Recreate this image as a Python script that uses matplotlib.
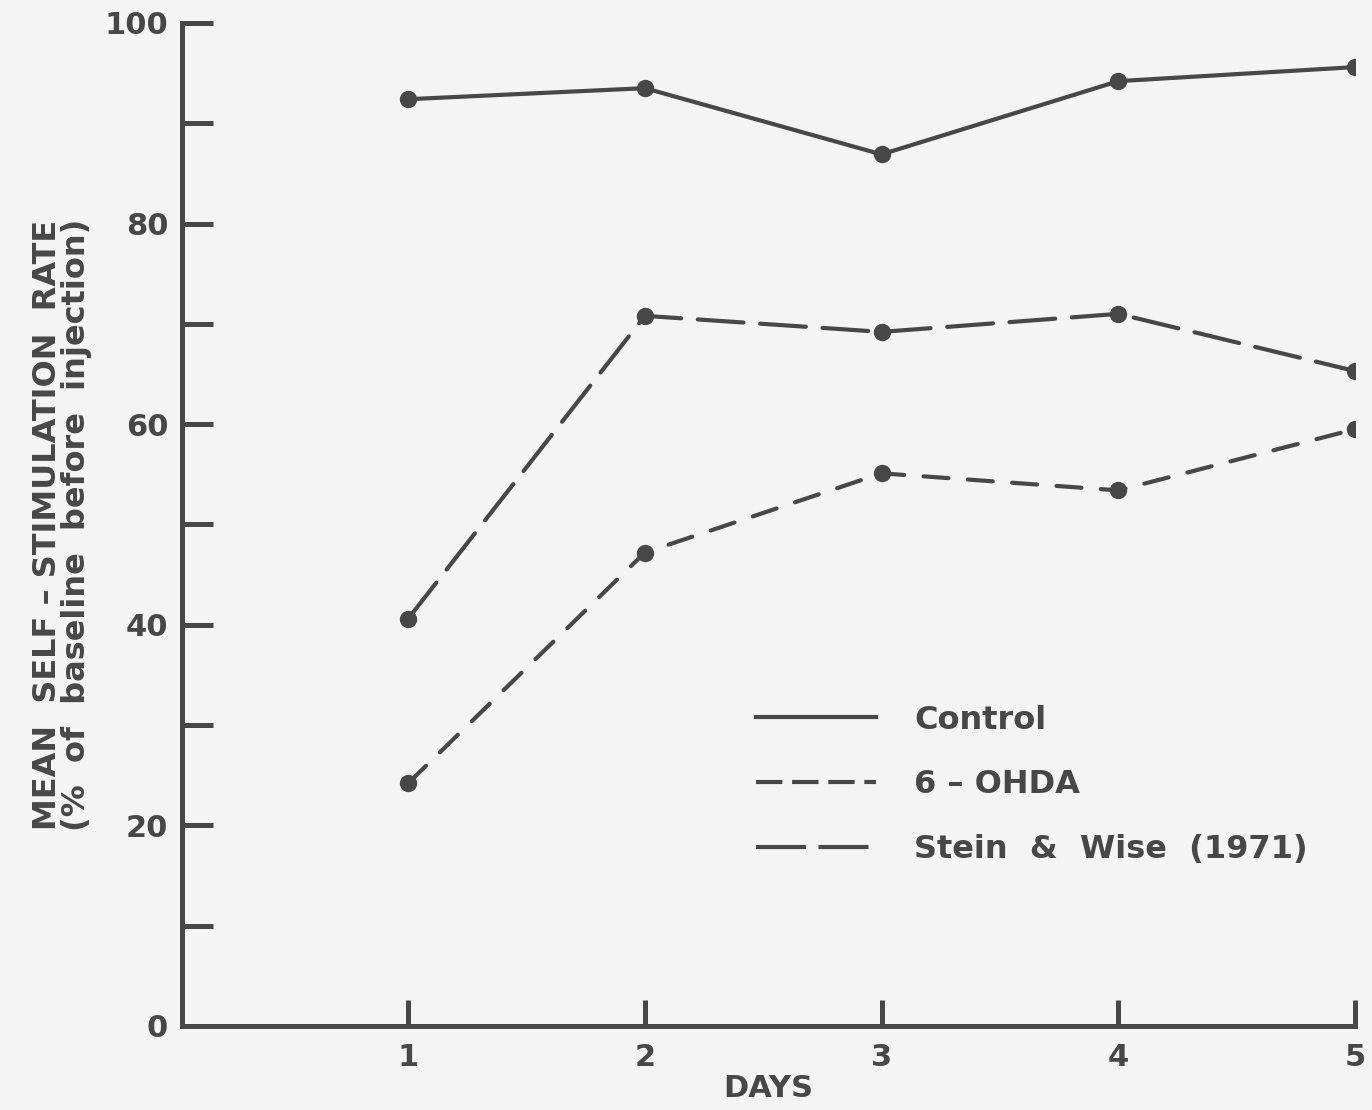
import matplotlib
matplotlib.use("Agg")
import matplotlib.pyplot as plt
from matplotlib.lines import Line2D

days = [1, 2, 3, 4, 5]
control = [92.4, 93.5, 86.9, 94.2, 95.6]
ohda = [24.2, 47.2, 55.1, 53.4, 59.5]
stein_wise = [40.6, 70.8, 69.2, 71.0, 65.3]
series_labels = ["Control", "6 \u2013 OHDA", "Stein  &  Wise  (1971)"]
y_major = [0, 20, 40, 60, 80, 100]
y_minor = [10, 30, 50, 70, 90]

ink = "#474747"
bg = "#f4f4f4"
plt.rcParams["lines.scale_dashes"] = False
plt.rcParams["font.family"] = ["DejaVu Sans"]

fig = plt.figure(figsize=(13.72, 11.10), dpi=100, facecolor=bg)
ax = fig.add_axes([0.1327, 0.0757, 0.8549, 0.9036])
ax.set_facecolor(bg)

lw = 3.0
ms = 11.5
ax.plot(days, control, color=ink, lw=lw, marker="o", ms=ms, linestyle="-",
        solid_capstyle="round")
ax.plot(days, ohda, color=ink, lw=lw, marker="o", ms=ms, dashes=(18, 14),
        dash_capstyle="round")
ax.plot(days, stein_wise, color=ink, lw=lw, marker="o", ms=ms, dashes=(33, 12),
        dash_capstyle="round")

ax.set_xlim(0.045, 5.0)
ax.set_ylim(0, 100)
for s in ["top", "right"]:
    ax.spines[s].set_visible(False)
for s in ["left", "bottom"]:
    ax.spines[s].set_color(ink)
    ax.spines[s].set_linewidth(3.6)

fs = 22
ax.set_yticks(y_major)
ax.set_yticks(y_minor, minor=True)
ax.set_yticklabels([str(v) for v in y_major], fontsize=fs, fontweight="bold", color=ink)
ax.tick_params(axis="y", which="both", direction="in", length=22, width=3.6,
               color=ink, pad=10)
ax.set_xticks(days)
ax.set_xticklabels([str(d) for d in days], fontsize=fs, fontweight="bold", color=ink)
ax.tick_params(axis="x", direction="in", length=19, width=3.6, color=ink, pad=12)

ax.set_xlabel("DAYS", fontsize=fs, fontweight="bold", color=ink, labelpad=2)
ax.set_ylabel("MEAN  SELF \u2013 STIMULATION  RATE\n(%  of  baseline  before  injection)",
              fontsize=23, fontweight="bold", color=ink, labelpad=9,
              linespacing=0.92)

handles = [
    Line2D([], [], color=ink, lw=lw, linestyle="-"),
    Line2D([], [], color=ink, lw=lw, dashes=(19, 7)),
    Line2D([], [], color=ink, lw=lw, dashes=(36, 9)),
]
leg = ax.legend(handles, series_labels, loc="upper left",
                bbox_to_anchor=(0.465, 0.349), frameon=False,
                fontsize=23, handlelength=3.75, handletextpad=1.2,
                labelspacing=1.05, labelcolor=ink)
for t in leg.get_texts():
    t.set_fontweight("bold")

fig.savefig("out.png", dpi=100, facecolor=bg)
